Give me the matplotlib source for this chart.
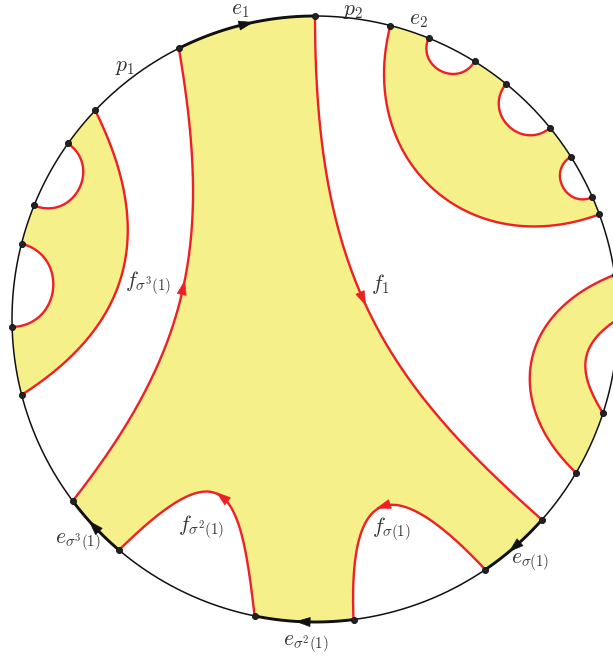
import numpy as np
import matplotlib
matplotlib.use("Agg")
import matplotlib.pyplot as plt
from matplotlib.patches import Polygon

plt.rcParams['mathtext.fontset'] = 'cm'

# ---------------- data ----------------
# boundary vertices (degrees on the unit circle)
vertex_angles = [116.7, 90.0, 75.6, 68.0, 58.2, 50.9, 39.1, 32.4, 23.7, 20.2,
                 8.4, 0.0, -18.1, -30.5, -41.5, -55.8, -82.7, -101.5,
                 229.7, 216.9, 194.5, 181.5, 165.6, 158.0, 144.6, 136.5]

# oriented boundary edges e (clockwise)
edge_labels = [r'$e_1$', r'$e_{\sigma(1)}$', r'$e_{\sigma^2(1)}$', r'$e_{\sigma^3(1)}$']
edge_start = [116.7, -41.5, -82.7, 229.7]
edge_end = [90.0, -55.8, -101.5, 216.9]

# oriented red arcs f
f_labels = [r'$f_1$', r'$f_{\sigma(1)}$', r'$f_{\sigma^2(1)}$', r'$f_{\sigma^3(1)}$']
f_start = [90.0, -55.8, 258.5, 216.9]
f_end = [-41.5, -82.7, 229.7, 116.7]

# other yellow pieces
tr_outer = (20.2, 75.6)
tr_holes = [(68.0, 58.2), (50.9, 39.1), (32.4, 23.7)]
left_outer = (194.5, 136.5)
left_holes = [(144.6, 158.0), (165.6, 181.5)]
right_outer = (-30.5, 8.4)
right_inner = (0.0, -18.1)

point_labels = [r'$p_1$', r'$p_2$', r'$e_2$']

# ---------------- style / shape ----------------
YELLOW = '#F5F08A'
RED = '#EE2025'
TXT = '#333333'

# bezier handle shapes (length in radii, tilt in degrees) for each f arc
f_shape = [dict(La=0.85, Lb=0.70, ta=0, tb=0),
           dict(La=0.33, Lb=0.55, ta=9, tb=5),
           dict(La=0.41, Lb=0.50, ta=18, tb=5),
           dict(La=0.64, Lb=0.64, ta=15, tb=17)]
tr_shape = dict(La=0.46, Lb=0.46)
left_shape = dict(La=0.44, Lb=0.44, ta=18, tb=20)
right_outer_shape = dict(La=0.33, Lb=0.35, ta=13, tb=13)
right_inner_shape = dict(La=0.16, Lb=0.16, ta=33, tb=40)


def pt(a):
    t = np.radians(a)
    return np.array([np.cos(t), np.sin(t)])


def handle_dir(a, b, tilt):
    p, q = pt(a), pt(b)
    r = -p
    d = q - p
    s = np.sign(r[0] * d[1] - r[1] * d[0]) or 1.0
    ang = np.radians(tilt) * s
    c, sn = np.cos(ang), np.sin(ang)
    return np.array([c * r[0] - sn * r[1], sn * r[0] + c * r[1]])


def geo_len(a, b):
    th = np.radians(abs((a - b + 180) % 360 - 180))
    return 4 / 3 * np.tan((np.pi - th) / 4) * np.tan(th / 2)


def curve(a, b, La=None, Lb=None, ta=0, tb=0, n=160):
    if La is None:
        La = geo_len(a, b)
    if Lb is None:
        Lb = geo_len(a, b)
    P0, P3 = pt(a), pt(b)
    P1 = P0 + La * handle_dir(a, b, ta)
    P2 = P3 + Lb * handle_dir(b, a, tb)
    t = np.linspace(0, 1, n)[:, None]
    return (1 - t) ** 3 * P0 + 3 * (1 - t) ** 2 * t * P1 + 3 * (1 - t) * t ** 2 * P2 + t ** 3 * P3


def barc(a, b, n=80):
    t = np.radians(np.linspace(a, b, n))
    return np.column_stack([np.cos(t), np.sin(t)])


def arrow(ax, pts, color, length=0.042, width=0.016, frac=0.5, z=6):
    seg = np.diff(pts, axis=0)
    cum = np.concatenate([[0], np.cumsum(np.hypot(seg[:, 0], seg[:, 1]))])
    i = np.searchsorted(cum, frac * cum[-1])
    i = min(max(i, 1), len(pts) - 2)
    p = pts[i]
    d = pts[i + 1] - pts[i - 1]
    d = d / np.hypot(*d)
    nrm = np.array([-d[1], d[0]])
    tip = p + d * length * 0.5
    base = p - d * length * 0.5
    tri = np.array([tip, base + nrm * width / 2, base - nrm * width / 2])
    ax.add_patch(Polygon(tri, closed=True, facecolor=color, edgecolor=color, lw=0.5, zorder=z))


fig = plt.figure(figsize=(6.13, 6.60), dpi=100)
ax = fig.add_axes([0, 0, 1, 1])
ax.set_xlim(-315 / 303, 298 / 303)
ax.set_ylim((319 - 660) / 303, 319 / 303)
ax.axis('off')

# ---- f curves ----
f_curves = [curve(a, b, **s) for a, b, s in zip(f_start, f_end, f_shape)]

# ---- central yellow region ----
central = np.vstack([barc(edge_start[0], edge_end[0]), f_curves[0],
                     barc(edge_start[1], edge_end[1]), f_curves[1],
                     barc(edge_start[2], edge_end[2]), f_curves[2],
                     barc(edge_start[3], edge_end[3]), f_curves[3]])
ax.add_patch(Polygon(central, closed=True, facecolor=YELLOW, edgecolor='none', zorder=1))

# ---- top right region ----
tr_big = curve(tr_outer[0], tr_outer[1], **tr_shape)
parts = []
prev = tr_outer[1]
hole_curves = []
for h in tr_holes:
    parts.append(barc(prev, h[0]))
    hc = curve(h[0], h[1])
    hole_curves.append(hc)
    parts.append(hc)
    prev = h[1]
parts.append(barc(prev, tr_outer[0]))
parts.append(tr_big)
ax.add_patch(Polygon(np.vstack(parts), closed=True, facecolor=YELLOW, edgecolor='none', zorder=1))

# ---- left region ----
lf_big = curve(left_outer[0], left_outer[1], **left_shape)
parts = []
prev = left_outer[1]
for h in left_holes:
    parts.append(barc(prev, h[0]))
    hc = curve(h[0], h[1])
    hole_curves.append(hc)
    parts.append(hc)
    prev = h[1]
parts.append(barc(prev, left_outer[0]))
parts.append(lf_big)
ax.add_patch(Polygon(np.vstack(parts), closed=True, facecolor=YELLOW, edgecolor='none', zorder=1))

# ---- right region ----
ro = curve(right_outer[0], right_outer[1], **right_outer_shape)
ri = curve(right_inner[0], right_inner[1], **right_inner_shape)
rpoly = np.vstack([barc(right_outer[1], right_inner[0]), ri,
                   barc(right_inner[1], right_outer[0]), ro])
ax.add_patch(Polygon(rpoly, closed=True, facecolor=YELLOW, edgecolor='none', zorder=1))

# ---- boundary circle ----
circ = barc(0, 360, 720)
ax.plot(circ[:, 0], circ[:, 1], color='#111111', lw=1.1, zorder=3)
for a, b in zip(edge_start, edge_end):
    e = barc(a, b)
    ax.plot(e[:, 0], e[:, 1], color='#111111', lw=2.1, zorder=3, solid_capstyle='round')
    arrow(ax, e, '#111111', length=0.045, width=0.03, z=6)

# ---- red curves ----
for c in f_curves + hole_curves + [tr_big, lf_big, ro, ri]:
    ax.plot(c[:, 0], c[:, 1], color=RED, lw=1.7, zorder=4, solid_capstyle='round')
for c in f_curves:
    arrow(ax, c, RED, length=0.045, width=0.03, z=6)

# ---- vertices ----
vp = np.array([pt(a) for a in vertex_angles])
ax.plot(vp[:, 0], vp[:, 1], 'o', color='#222222', ms=4.4, mec='#111111', mew=0.6, zorder=7)

# ---- labels ----
fs = 15.5
lab_pos_e = [(-0.2475, 1.0198), (0.7096, -0.802), (-0.0297, -1.0726), (-0.7822, -0.736)]
lab_pos_f = [(0.2145, 0.1155), (0.2508, -0.6931), (-0.3762, -0.6865), (-0.5512, 0.1188)]
lab_pos_p = [(-0.627, 0.8317), (0.1254, 1.018), (0.3399, 0.9868)]
for s, p in zip(edge_labels, lab_pos_e):
    ax.text(p[0], p[1], s, fontsize=fs, color=TXT, ha='center', va='center', zorder=8)
for s, p in zip(f_labels, lab_pos_f):
    ax.text(p[0], p[1], s, fontsize=fs, color=TXT, ha='center', va='center', zorder=8)
for s, p in zip(point_labels, lab_pos_p):
    ax.text(p[0], p[1], s, fontsize=fs, color=TXT, ha='center', va='center', zorder=8)

fig.savefig('out.png', dpi=100)
